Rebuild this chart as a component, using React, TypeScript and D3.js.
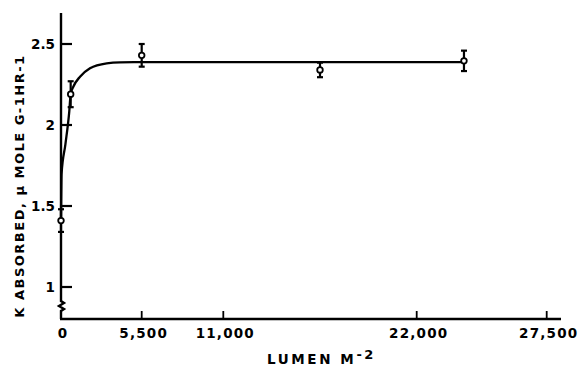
import React from "react";
import * as d3 from "d3";

const xTickValues = [0, 5500, 11000, 22000, 27500];
const xTickLabels = ["0", "5,500", "11,000", "22,000", "27,500"];
const yTickValues = [1, 1.5, 2, 2.5];
const yTickLabels = ["1", "1.5", "2", "2.5"];

const pointX = [0, 660, 5500, 16500, 24000];
const pointY = [1.41, 2.19, 2.43, 2.34, 2.396];
const pointErr = [0.07, 0.08, 0.07, 0.045, 0.063];

const curveX = [0, 40, 300, 560, 660, 838, 1295, 1976, 3115, 4021, 5500, 24000];
const curveY = [1.41, 1.7, 1.88, 2.08, 2.19, 2.236, 2.298, 2.35, 2.381, 2.387, 2.388, 2.388];

const W = 583;
const H = 367;

export default function App() {
  // tick positions in the original figure are not evenly spaced
  const x = d3.scaleLinear().domain(xTickValues).range([61, 141.7, 223.3, 416.7, 546.7]);
  const y = d3.scaleLinear().domain([1, 2.5]).range([287, 44]);
  const x0 = x(0);
  const yBase = 319;
  const line = d3
    .line<number>()
    .x((_, i) => x(curveX[i]))
    .y((d) => y(d))
    .curve(d3.curveMonotoneX);
  const font = "'DejaVu Sans', sans-serif";
  return (
    <svg
      width={W}
      height={H}
      style={{ position: "absolute", left: 0, top: 0, background: "#fff" }}
    >
      {/* y axis with break */}
      <path
        d={`M${x0},13 L${x0},301 l3,2 l-5,3 l5,3 l-3,2 L${x0},${yBase}`}
        fill="none"
        stroke="#000"
        strokeWidth={2.4}
      />
      {/* x axis */}
      <line x1={x0 - 1} x2={561} y1={yBase} y2={yBase} stroke="#000" strokeWidth={2.4} />
      {yTickValues.map((v, i) => (
        <g key={"yt" + i}>
          <line x1={x0} x2={x0 + 11} y1={y(v)} y2={y(v)} stroke="#000" strokeWidth={2.2} />
          <text
            x={55}
            y={y(v)}
            dy="0.36em"
            textAnchor="end"
            fontFamily={font}
            fontWeight="bold"
            fontSize={13.5}
          >
            {yTickLabels[i]}
          </text>
        </g>
      ))}
      {xTickValues.map((v, i) => (
        <g key={"xt" + i}>
          {i > 0 && (
            <line x1={x(v)} x2={x(v)} y1={yBase} y2={yBase - 8} stroke="#000" strokeWidth={1.8} />
          )}
          <text
            x={x(v) + 2}
            y={338}
            textAnchor="middle"
            fontFamily={font}
            fontWeight="bold"
            fontSize={13.5}
            letterSpacing={1.2}
          >
            {xTickLabels[i]}
          </text>
        </g>
      ))}
      {/* fitted curve */}
      <path d={line(curveY) || ""} fill="none" stroke="#000" strokeWidth={2.3} />
      {/* data points with error bars */}
      {pointX.map((px, i) => {
        const cx = x(px);
        const top = y(pointY[i] + pointErr[i]);
        const bot = y(pointY[i] - pointErr[i]);
        return (
          <g key={"p" + i} stroke="#000">
            <line x1={cx} x2={cx} y1={top} y2={bot} strokeWidth={2.2} />
            <line x1={cx - 3} x2={cx + 3} y1={top} y2={top} strokeWidth={2.2} />
            <line x1={cx - 3} x2={cx + 3} y1={bot} y2={bot} strokeWidth={2.2} />
            <circle cx={cx} cy={y(pointY[i])} r={2.8} fill="#fff" strokeWidth={1.8} />
          </g>
        );
      })}
      {/* axis titles */}
      <text
        x={267}
        y={364}
        fontFamily={font}
        fontWeight="bold"
        fontSize={13.5}
        letterSpacing={2.6}
      >
        LUMEN M
        <tspan fontSize={13} dy={-5}>
          -2
        </tspan>
      </text>
      <text
        transform={`translate(24,${186}) rotate(-90)`}
        textAnchor="middle"
        fontFamily={font}
        fontWeight="bold"
        fontSize={13}
        letterSpacing={1.5}
      >
        K ABSORBED, μ MOLE G-1HR-1
      </text>
    </svg>
  );
}
